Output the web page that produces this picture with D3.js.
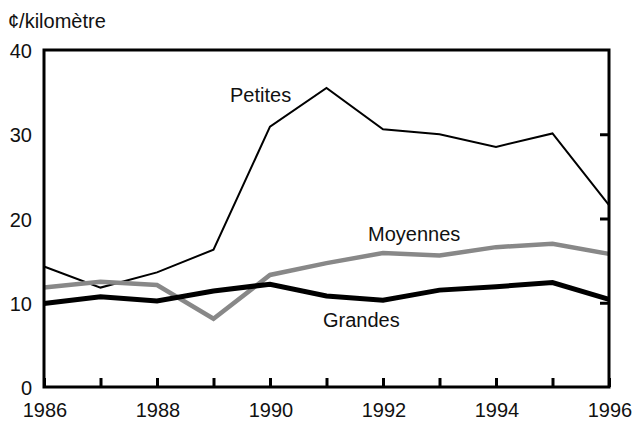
<!DOCTYPE html>
<html><head><meta charset="utf-8">
<script src="https://cdn.jsdelivr.net/npm/d3@7"></script>
<style>body{margin:0;background:#fff}svg text{font-family:"Liberation Sans",Arial,Helvetica,sans-serif;fill:#111}</style>
</head><body><svg id="c" width="635" height="421"></svg>
<script>
const years = [1986,1987,1988,1989,1990,1991,1992,1993,1994,1995,1996];
const petites  = [14.3,11.8,13.6,16.3,30.9,35.5,30.6,30.0,28.5,30.1,21.6];
const moyennes = [11.8,12.5,12.1,8.1,13.3,14.7,15.9,15.6,16.6,17.0,15.8];
const grandes  = [9.9,10.7,10.2,11.4,12.2,10.8,10.3,11.5,11.9,12.4,10.4];
const yTicks = [0,10,20,30,40];
const xTickLabels = [1986,1988,1990,1992,1994,1996];
const unitLabel = "¢/kilomètre";

const svg = d3.select("#c");
const L=44,R=609,T=50,B=387;
const x = d3.scaleLinear().domain([1986,1996]).range([L,R]);
const y = d3.scaleLinear().domain([0,40]).range([B,T]);
const fs = 20;

// series
const line = d3.line().x((d,i)=>x(years[i])).y(d=>y(d));
svg.append("path").attr("d",line(petites)).attr("fill","none").attr("stroke","#000").attr("stroke-width",2).attr("stroke-linejoin","miter");
svg.append("path").attr("d",line(moyennes)).attr("fill","none").attr("stroke","#888").attr("stroke-width",4.5).attr("stroke-linejoin","miter");
svg.append("path").attr("d",line(grandes)).attr("fill","none").attr("stroke","#000").attr("stroke-width",5).attr("stroke-linejoin","miter");

// frame
svg.append("rect").attr("x",L).attr("y",T).attr("width",R-L).attr("height",B-T)
  .attr("fill","none").attr("stroke","#000").attr("stroke-width",3);

// bottom ticks (inward)
const bx = d3.axisBottom(x).tickValues(years).tickSize(-9).tickFormat(()=>"");
const gb = svg.append("g").attr("transform",`translate(0,${B})`).call(bx);
gb.select(".domain").remove();
gb.selectAll(".tick line").attr("stroke","#000").attr("stroke-width",3);
// right ticks (inward)
const ry = d3.axisRight(y).tickValues([10,20,30]).tickSize(-9).tickFormat(()=>"");
const gr = svg.append("g").attr("transform",`translate(${R},0)`).call(ry);
gr.select(".domain").remove();
gr.selectAll(".tick line").attr("stroke","#000").attr("stroke-width",3);

// labels
svg.selectAll(".yl").data(yTicks).enter().append("text")
  .attr("x",32).attr("y",d=>y(d)+8).attr("text-anchor","end").attr("font-size",fs).text(d=>d);
svg.selectAll(".xl").data(xTickLabels).enter().append("text")
  .attr("x",d=>x(d)+1).attr("y",417).attr("text-anchor","middle").attr("font-size",fs).text(d=>d);
svg.append("text").attr("x",8).attr("y",28).attr("font-size",fs).text(unitLabel);
svg.append("text").attr("x",230).attr("y",102).attr("font-size",fs).text("Petites");
svg.append("text").attr("x",368).attr("y",241).attr("font-size",fs).text("Moyennes");
svg.append("text").attr("x",323).attr("y",327).attr("font-size",fs).text("Grandes");
</script></body></html>
